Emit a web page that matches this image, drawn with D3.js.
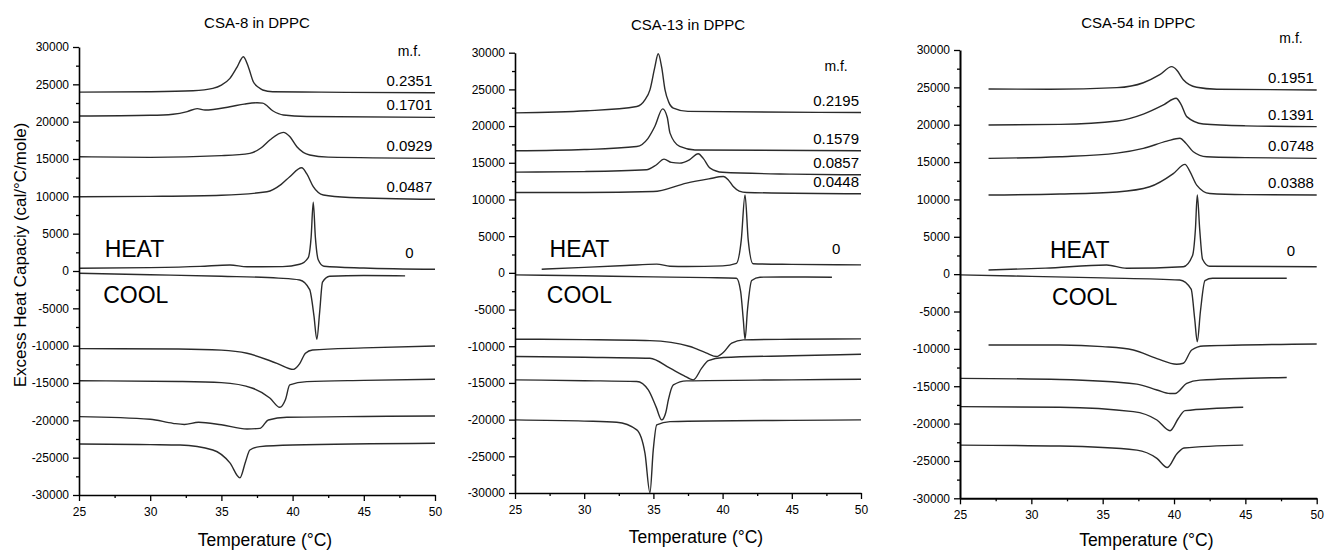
<!DOCTYPE html>
<html>
<head>
<meta charset="utf-8">
<script src="https://cdn.jsdelivr.net/npm/d3@7"></script>
<style>
  body { margin: 0; background: #fff; }
  text { font-family: "Liberation Sans", Arial, sans-serif; fill: #000; }
</style>
</head>
<body>
<script>
// tick values shared by the three panels
var xTicks = [25, 30, 35, 40, 45, 50];
var xMinor = [27.5, 32.5, 37.5, 42.5, 47.5];
var yTicks = [-30000, -25000, -20000, -15000, -10000, -5000, 0, 5000, 10000, 15000, 20000, 25000, 30000];
var yMinor = [-27500, -22500, -17500, -12500, -7500, -2500, 2500, 7500, 12500, 17500, 22500, 27500];

// CSA-8 in DPPC
var csa8Labels = ["0.2351", "0.1701", "0.0929", "0.0487", "0"];
var csa8Heat = [
  [[25,23950],[30,24010],[33,24150],[34.4,24460],[35.0,24900],[35.6,25800],[36.1,27300],[36.54,28700],[36.9,27300],[37.24,25350],[37.6,24600],[37.9,24240],[38.6,24000],[42,23950],[50,23880]],
  [[25,20750],[30,20850],[31.6,21000],[32.6,21350],[33.3,21750],[33.85,21560],[35.6,22000],[36.6,22350],[37.5,22540],[37.9,22480],[38.6,21460],[39.35,20890],[41,20700],[50,20580]],
  [[25,15300],[30,15220],[35,15450],[37.0,15760],[37.8,16500],[38.4,17540],[39.35,18570],[39.8,18000],[40.3,16640],[41.2,15530],[42.5,15250],[50,15090]],
  [[25,9950],[30,10000],[35,10150],[38.2,10620],[39.2,11600],[39.8,12630],[40.64,13830],[41.0,13000],[41.45,11290],[42.16,10180],[44,9850],[50,9600]],
  [[25,360],[30,450],[33.5,620],[35.6,800],[36.8,560],[39.3,580],[40.5,900],[41.1,1800],[41.3,4500],[41.45,9200],[41.6,4500],[41.8,1500],[42.2,640],[45,400],[50,230]]
];
var csa8Cool = [
  [[25,-300],[30,-500],[35,-700],[39,-950],[40.5,-1200],[41.2,-2500],[41.5,-6000],[41.7,-9150],[41.9,-5500],[42.1,-1500],[42.6,-700],[45,-600],[47.9,-650]],
  [[25,-10400],[32,-10450],[35,-10600],[36.8,-11020],[38.9,-12360],[40.05,-13170],[40.5,-12400],[40.9,-11020],[41.4,-10580],[45,-10300],[50,-10040]],
  [[25,-14700],[32,-14800],[35,-14950],[37.2,-15700],[38.4,-17000],[39.1,-18250],[39.5,-17200],[39.8,-15260],[41.0,-14820],[45,-14650],[50,-14500]],
  [[25,-19500],[30,-19860],[31.6,-20400],[32.4,-20550],[33.4,-20250],[35,-20600],[36.8,-21160],[37.7,-21070],[38.3,-19950],[39.6,-19590],[45,-19480],[50,-19420]],
  [[25,-23160],[30,-23250],[32.1,-23300],[34.4,-23970],[35.6,-25700],[36.3,-27700],[36.7,-25500],[37.0,-23970],[37.7,-23520],[40,-23300],[50,-23070]]
];

// CSA-13 in DPPC
var csa13Labels = ["0.2195", "0.1579", "0.0857", "0.0448", "0"];
var csa13Heat = [
  [[25,21800],[30.2,22080],[33.8,22670],[34.4,23600],[34.75,24940],[35.1,28000],[35.35,29850],[35.6,28000],[35.84,24940],[36.1,23300],[36.44,22450],[37.5,22000],[50,21850]],
  [[25,16630],[30,16800],[33.8,17220],[34.6,18300],[35.1,19940],[35.67,22350],[36.0,21200],[36.2,19040],[36.9,17220],[38,16750],[50,16630]],
  [[25,13730],[30,13800],[34.5,14040],[35.2,14700],[35.77,15500],[36.3,15050],[36.9,14950],[37.6,15400],[38.24,16220],[38.6,15600],[39.1,14270],[40,13700],[45,13450],[50,13360]],
  [[25,10950],[30,10950],[35,11080],[37.4,12230],[39,12800],[40.05,13130],[40.4,12700],[40.77,11760],[41.2,11150],[41.74,10950],[50,10770]],
  [[26.93,500],[30,750],[33,1000],[35.24,1190],[36.2,900],[37.4,860],[40,950],[41.0,1300],[41.35,4500],[41.62,10630],[41.85,4500],[42.2,1230],[45,1150],[50,1090]]
];
var csa13Cool = [
  [[25,-270],[30,-400],[35,-550],[39,-650],[41.0,-730],[41.3,-2500],[41.5,-6500],[41.62,-9040],[41.8,-5000],[42.1,-1050],[42.7,-590],[45,-560],[47.9,-590]],
  [[25,-9040],[30,-9100],[34.75,-9230],[37.64,-10040],[38.8,-10900],[39.57,-11400],[40.05,-10860],[40.66,-9580],[41.5,-9130],[45,-9050],[50,-9000]],
  [[25,-11400],[30,-11500],[34.75,-11630],[36.2,-12990],[37.2,-14000],[37.88,-14580],[38.49,-12990],[38.97,-11950],[40.05,-11540],[45,-11300],[50,-11090]],
  [[25,-14580],[30,-14700],[33.8,-14810],[34.63,-15950],[35.2,-18300],[35.6,-20040],[35.9,-19000],[36.08,-17310],[36.44,-15270],[37.4,-14720],[45,-14580],[50,-14490]],
  [[25,-20040],[30,-20200],[32.35,-20350],[33.8,-21400],[34.39,-24570],[34.75,-29950],[34.99,-24130],[35.24,-20720],[36.2,-20270],[45,-20100],[50,-20040]]
];

// CSA-54 in DPPC
var csa54Labels = ["0.1951", "0.1391", "0.0748", "0.0388", "0"];
var csa54Heat = [
  [[27,24780],[31.3,24740],[36,24960],[37.85,25620],[39.0,26700],[39.84,27770],[40.2,27300],[40.65,26020],[41.59,25010],[43,24750],[50,24650]],
  [[27,19960],[32,20050],[36,20500],[37.85,21430],[39.3,22700],[40.14,23540],[40.5,22700],[40.89,21080],[42.05,20100],[45,19850],[50,19740]],
  [[27,15500],[32,15720],[36,16200],[37.85,16840],[39.5,17800],[40.42,18180],[40.8,17600],[41.35,16390],[42.29,15720],[45,15600],[50,15500]],
  [[27,10590],[32,10720],[36,11000],[38.3,11700],[39.95,13460],[40.77,14690],[41.1,13800],[41.59,11920],[42.5,10800],[45,10650],[50,10590]],
  [[27,555],[31,800],[35.28,1220],[36.68,780],[40.65,1000],[41.3,2500],[41.5,6000],[41.63,10590],[41.8,6000],[42.0,2000],[42.5,1050],[50,1000]]
];
var csa54Cool = [
  [[25,-100],[30,-300],[35,-500],[40.4,-780],[41.2,-2000],[41.45,-6000],[41.63,-9040],[41.85,-5000],[42.17,-870],[42.7,-550],[47.9,-550]],
  [[27,-9480],[32,-9480],[35,-9700],[37.15,-10150],[38.8,-11300],[40.19,-12060],[40.65,-11930],[41.24,-10150],[42.05,-9610],[50,-9340]],
  [[25,-13950],[32,-14100],[37.4,-14720],[38.8,-15500],[39.72,-15980],[40.07,-15980],[40.89,-14630],[41.82,-14190],[47.9,-13830]],
  [[25,-17730],[32,-17810],[37.15,-18400],[38.8,-19520],[39.72,-20950],[40.3,-19320],[40.77,-18270],[44.85,-17810]],
  [[25,-22880],[32,-23010],[37.4,-23550],[38.8,-24660],[39.53,-25880],[40.19,-24070],[40.7,-23260],[44.85,-22880]]
];

var svg = d3.select("body").append("svg")
    .attr("width", 1325)
    .attr("height", 551);

var panels = [
  {title: "CSA-8 in DPPC", left: 79, right: 435, top: 47, bottom: 495, heat: csa8Heat, cool: csa8Cool, labels: csa8Labels,
   titleY: 28, xTitleY: 546, mfY: 28830, heatPos: [26.8, 1920], coolPos: [26.7, -4280], axisW: 1.6},
  {title: "CSA-13 in DPPC", left: 515, right: 861, top: 52.7, bottom: 493, heat: csa13Heat, cool: csa13Cool, labels: csa13Labels,
   titleY: 30, xTitleY: 543, mfY: 27530, heatPos: [27.5, 2180], coolPos: [27.3, -4090], axisW: 1.6},
  {title: "CSA-54 in DPPC", left: 960, right: 1316.7, top: 50, bottom: 498.3, heat: csa54Heat, cool: csa54Cool, labels: csa54Labels,
   titleY: 28, xTitleY: 546, mfY: 30940, heatPos: [31.3, 2160], coolPos: [31.45, -4130], axisW: 2}
];

panels.forEach(drawPanel);

// shared y axis title
svg.append("text")
    .attr("transform", "translate(26,255) rotate(-90)")
    .attr("text-anchor", "middle")
    .attr("font-size", 17)
    .text("Excess Heat Capaciy (cal/°C/mole)");

function drawPanel(p){
    var x = d3.scaleLinear().domain([25, 50]).range([p.left, p.right]);
    var y = d3.scaleLinear().domain([-30000, 30000]).range([p.bottom, p.top]);
    var g = svg.append("g");

    var line = d3.line()
        .x(function(d){ return x(d[0]); })
        .y(function(d){ return y(d[1]); })
        .curve(d3.curveMonotoneX);

    g.selectAll(".curve")
        .data(p.heat.concat(p.cool))
        .enter().append("path")
        .attr("class", "curve")
        .attr("fill", "none")
        .attr("stroke", "#2b2b2b")
        .attr("stroke-width", 1.4)
        .attr("d", line);

    // x axis, major and minor ticks
    g.append("g").attr("transform", "translate(0," + p.bottom + ")")
        .call(d3.axisBottom(x).tickValues(xTicks).tickSize(6).tickSizeOuter(0).tickPadding(6));
    g.append("g").attr("transform", "translate(0," + p.bottom + ")")
        .call(d3.axisBottom(x).tickValues(xMinor).tickSize(3).tickSizeOuter(0).tickFormat(""))
        .select(".domain").remove();
    g.append("g").attr("transform", "translate(" + p.left + ",0)")
        .call(d3.axisLeft(y).tickValues(yTicks).tickSize(6).tickSizeOuter(0).tickPadding(4)
            .tickFormat(function(d){ return String(d); }));
    g.append("g").attr("transform", "translate(" + p.left + ",0)")
        .call(d3.axisLeft(y).tickValues(yMinor).tickSize(3).tickSizeOuter(0).tickFormat(""))
        .select(".domain").remove();

    g.selectAll(".domain").attr("stroke", "#000").attr("stroke-width", p.axisW);
    g.selectAll(".tick line").attr("stroke", "#000").attr("stroke-width", 1.3);
    g.selectAll(".tick text").attr("font-size", 12).attr("font-family", "Liberation Sans, Arial, sans-serif");

    // titles
    g.append("text")
        .attr("x", (p.left + p.right) / 2)
        .attr("y", p.titleY)
        .attr("text-anchor", "middle")
        .attr("font-size", 15)
        .text(p.title);
    g.append("text")
        .attr("x", (p.left + p.right) / 2 + 8)
        .attr("y", p.xTitleY)
        .attr("text-anchor", "middle")
        .attr("font-size", 17.5)
        .text("Temperature (°C)");

    // m.f. labels sit just above the end of each heating curve
    g.append("text")
        .attr("x", x(48.2))
        .attr("y", y(p.mfY))
        .attr("text-anchor", "middle")
        .attr("font-size", 14)
        .text("m.f.");
    g.selectAll(".mf")
        .data(p.heat)
        .enter().append("text")
        .attr("class", "mf")
        .attr("x", x(48.2))
        .attr("y", function(d, i){
            var last = d[d.length - 1];
            return y(last[1]) - (i == p.heat.length - 1 ? 11 : 7);
        })
        .attr("text-anchor", "middle")
        .attr("font-size", 15)
        .text(function(d, i){ return p.labels[i]; });

    g.append("text")
        .attr("x", x(p.heatPos[0])).attr("y", y(p.heatPos[1]))
        .attr("font-size", 23)
        .text("HEAT");
    g.append("text")
        .attr("x", x(p.coolPos[0])).attr("y", y(p.coolPos[1]))
        .attr("font-size", 23)
        .text("COOL");
}
</script>
</body>
</html>
